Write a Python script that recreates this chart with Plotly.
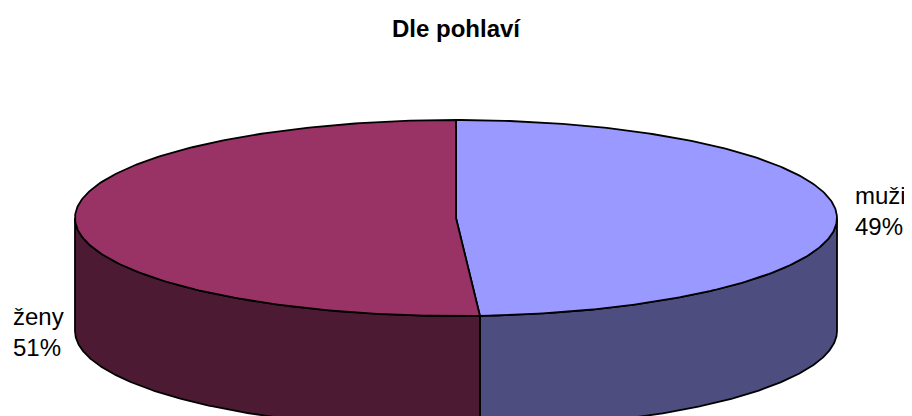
import numpy as np
import plotly.graph_objects as go

# ---- data ----
title = "Dle pohlaví"
categories = ["muži", "ženy"]
values = [49, 51]

# ---- style ----
top_colors = ["#9999FF", "#993366"]
side_colors = ["#4D4D80", "#4D1A33"]
label_pos = [(853, 211), (11, 332)]

W, H = 912, 416
OFF = 8  # page body margin
CX, CY, RX, RY, DEPTH = 456, 218, 381, 98, 113
FONT = "Liberation Sans, Arial, sans-serif"


def arc(a, b, dy=0.0, n=240):
    t = np.radians(np.linspace(a, b, n))
    return CX + RX * np.sin(t), CY - RY * np.cos(t) + dy


total = float(sum(values))
bounds = []
acc = 0.0
for v in values:
    start = acc / total * 360.0
    acc += v
    end = acc / total * 360.0
    bounds.append((start, end))

fig = go.Figure()
line = dict(color="black", width=1.8)

# side walls (front half only: 90..270 deg clockwise from top)
for (a, b), col in zip(bounds, side_colors):
    s, e = max(a, 90.0), min(b, 270.0)
    if e <= s:
        continue
    xt, yt = arc(s, e)
    xb, yb = arc(e, s, DEPTH)
    xs = np.concatenate([xt, xb, xt[:1]])
    ys = np.concatenate([yt, yb, yt[:1]])
    fig.add_trace(go.Scatter(x=xs, y=ys, mode="lines", fill="toself",
                             fillcolor=col, line=line, hoverinfo="skip",
                             showlegend=False))

# top faces
for (a, b), col in zip(bounds, top_colors):
    xa, ya = arc(a, b)
    xs = np.concatenate([[CX], xa, [CX]])
    ys = np.concatenate([[CY], ya, [CY]])
    fig.add_trace(go.Scatter(x=xs, y=ys, mode="lines", fill="toself",
                             fillcolor=col, line=line, hoverinfo="skip",
                             showlegend=False))

annotations = [dict(text=f"<b>{title}</b>", x=W / 2, y=28, xref="x", yref="y",
                    showarrow=False, font=dict(family=FONT, size=24, color="black"),
                    xanchor="center", yanchor="middle")]
for cat, val, (lx, ly) in zip(categories, values, label_pos):
    annotations.append(dict(text=f"{cat}<br>{val}%", x=lx, y=ly, xref="x", yref="y",
                            showarrow=False, align="left", xanchor="left", yanchor="middle",
                            font=dict(family=FONT, size=24, color="black")))

fig.update_layout(
    width=W - OFF, height=H - OFF,
    margin=dict(l=0, r=0, t=0, b=0, pad=0),
    paper_bgcolor="white", plot_bgcolor="white",
    xaxis=dict(range=[OFF, W], visible=False, fixedrange=True),
    yaxis=dict(range=[H, OFF], visible=False, fixedrange=True),
    annotations=annotations,
)

fig.write_html("out.html")
